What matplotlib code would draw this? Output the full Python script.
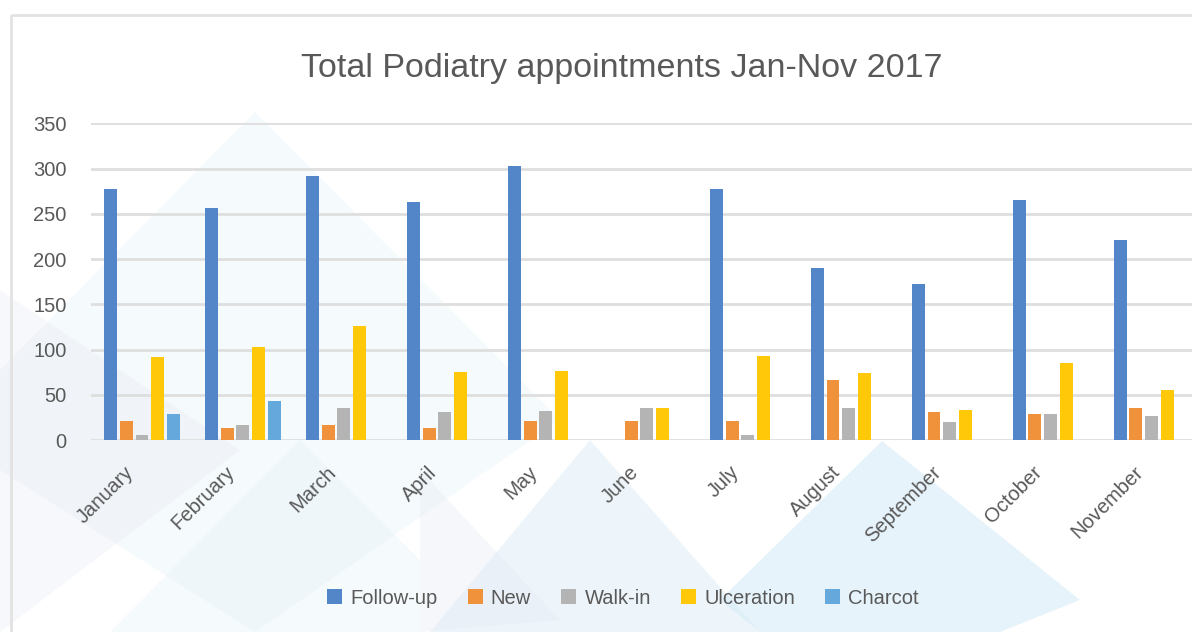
import numpy as np
import matplotlib.pyplot as plt
import matplotlib.transforms as mtransforms
from matplotlib.patches import Polygon, Rectangle

# -------- DATA --------
months = ["January", "February", "March", "April", "May", "June",
          "July", "August", "September", "October", "November"]
follow_up = [277, 256, 292, 263, 303, 0, 277, 190, 172, 265, 221]
new = [21, 13, 17, 13, 21, 21, 21, 66, 31, 29, 35]
walk_in = [6, 17, 35, 31, 32, 35, 6, 35, 20, 29, 27]
ulceration = [92, 103, 126, 75, 76, 35, 93, 74, 33, 85, 55]
charcot = [29, 43, 0, 0, 0, 0, 0, 0, 0, 0, 0]

series_names = ["Follow-up", "New", "Walk-in", "Ulceration", "Charcot"]
series_colors = ["#5386c8", "#f0913c", "#b4b4b4", "#ffc90a", "#64a8dc"]

plt.rcParams['font.family'] = ['Liberation Sans', 'DejaVu Sans']
text_color = "#595959"

# -------- FIGURE --------
W, H = 1192, 632
fig = plt.figure(figsize=(W / 100, H / 100), dpi=100)

# background layer for the faint decorative shapes
bg = fig.add_axes([0, 0, 1, 1], zorder=-5)
bg.set_xlim(0, W)
bg.set_ylim(H, 0)
bg.axis('off')

def poly(pts, color, alpha):
    bg.add_patch(Polygon(pts, closed=True, facecolor=color, edgecolor='none', alpha=alpha))

poly([(255, 112), (560, 420), (255, 632), (0, 470), (0, 370)], "#e3f1f9", 0.35)
poly([(0, 290), (240, 450), (0, 632)], "#e6e9f4", 0.3)
poly([(110, 632), (300, 440), (420, 560), (420, 632)], "#e3f1f9", 0.35)
poly([(590, 440), (760, 632), (430, 632)], "#dcedf7", 0.5)
poly([(882, 441), (1080, 600), (1000, 632), (760, 632), (720, 600)], "#d6ecf7", 0.6)
poly([(420, 470), (560, 620), (420, 632)], "#e6e9f4", 0.35)

# light frame
bg.add_patch(Rectangle((11, 15), 1300, 700, fill=False, edgecolor="#e2e2e2", linewidth=2))

ax = fig.add_axes([91.5 / W, 1 - 440 / H, 1110.5 / W, (440 - 123.3) / H], zorder=1)
ax.patch.set_alpha(0)

x = np.arange(len(months))
slot = 0.155
width = 0.128
all_series = [follow_up, new, walk_in, ulceration, charcot]
for i, (vals, name, col) in enumerate(zip(all_series, series_names, series_colors)):
    ax.bar(x + (i - 2) * slot, vals, width=width, color=col, label=name, zorder=3)

ax.set_xlim(-0.5, len(months) - 0.5)
ax.set_ylim(0, 350)
ax.set_yticks(range(0, 351, 50))
ax.yaxis.grid(True, color="#dedede", linewidth=2, zorder=0)
ax.set_axisbelow(True)
for s in ax.spines.values():
    s.set_visible(False)
ax.tick_params(axis='both', length=0, labelsize=14.5, colors=text_color)
ax.tick_params(axis='y', pad=18)
ax.set_xticks(x)
ax.set_xticklabels(months, rotation=45, ha='right', rotation_mode='anchor')
ax.tick_params(axis='x', pad=12)
shift = mtransforms.ScaledTranslation(-18 / 100, -6 / 100, fig.dpi_scale_trans)
for lbl in ax.get_xticklabels():
    lbl.set_transform(lbl.get_transform() + shift)

fig.text(622 / W, 1 - 69 / H, "Total Podiatry appointments Jan-Nov 2017",
         ha='center', va='center', fontsize=24.5, color=text_color)

leg = fig.legend(loc='center', bbox_to_anchor=(623 / W, 1 - 598 / H), ncol=5,
                 frameon=False, fontsize=14.5, handlelength=0.75, handleheight=0.75,
                 handletextpad=0.4, columnspacing=1.5)
for t in leg.get_texts():
    t.set_color(text_color)

fig.savefig("out.png", dpi=100)
